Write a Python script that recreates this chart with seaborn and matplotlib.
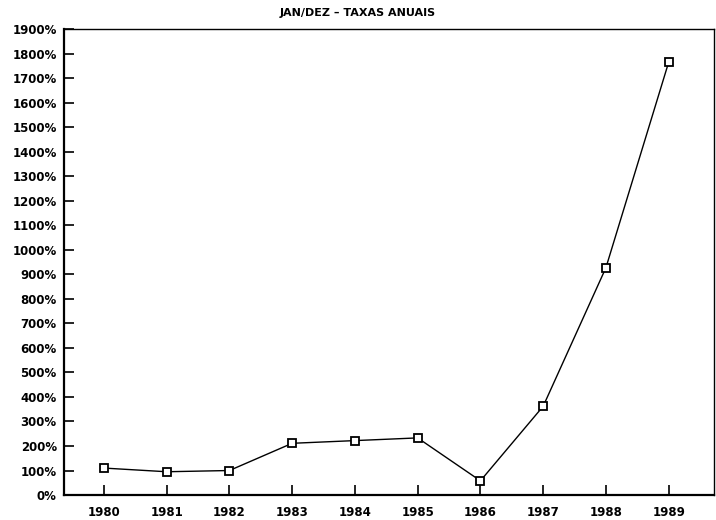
import numpy as np
import pandas as pd
import matplotlib
matplotlib.use("Agg")
import matplotlib.pyplot as plt
import seaborn as sns
from matplotlib.ticker import FuncFormatter, MultipleLocator

# Dados (inflacao anual, %)
anos = [1980, 1981, 1982, 1983, 1984, 1985, 1986, 1987, 1988, 1989]
taxas = [110, 95, 100, 211, 222, 233, 58, 362, 927, 1765]

df = pd.DataFrame({"ano": anos, "taxa": taxas})

sns.set_style("ticks")
plt.rcParams["font.family"] = ["DejaVu Sans"]
plt.rcParams["text.color"] = "black"

fig = plt.figure(figsize=(7.16, 5.20), dpi=100)
ax = fig.add_axes([0.089, 0.048, 0.908, 0.896])

sns.lineplot(
    data=df, x="ano", y="taxa", ax=ax,
    color="black", linewidth=1.0,
    marker="s", markersize=6, markerfacecolor="white",
    markeredgecolor="black", markeredgewidth=1.3,
)

ax.set_xlim(1979.36, 1989.72)
ax.set_ylim(0, 1900)
ax.set_xticks(anos)
ax.yaxis.set_major_locator(MultipleLocator(100))
ax.yaxis.set_major_formatter(FuncFormatter(lambda v, p: f"{int(v)}%"))

ax.tick_params(axis="both", direction="in", length=7, width=1.2,
               labelsize=8.5, colors="black")
ax.tick_params(axis="y", pad=5)
ax.tick_params(axis="x", pad=8)
for lbl in ax.get_xticklabels() + ax.get_yticklabels():
    lbl.set_fontweight("bold")

for side in ["left", "bottom"]:
    ax.spines[side].set_linewidth(1.6)
    ax.spines[side].set_color("black")
for side in ["top", "right"]:
    ax.spines[side].set_visible(True)
    ax.spines[side].set_linewidth(1.0)
    ax.spines[side].set_color("black")

ax.set_xlabel("")
ax.set_ylabel("")

fig.suptitle("JAN/DEZ – TAXAS ANUAIS", x=0.5, y=0.985, fontsize=8,
             fontweight="bold", color="black")

fig.savefig("out.png", dpi=100)
